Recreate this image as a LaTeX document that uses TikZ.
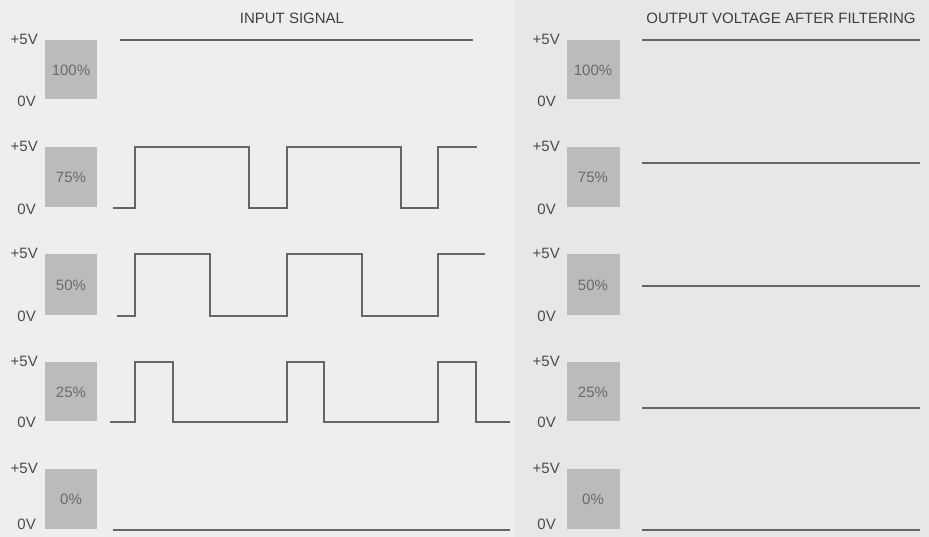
\documentclass[tikz,border=0pt]{standalone}
\usepackage{fontspec}
\setmainfont{Liberation Sans}
\definecolor{bgL}{HTML}{EEEEEE}
\definecolor{bgR}{HTML}{E7E7E7}
\definecolor{boxg}{HTML}{BBBBBB}
\definecolor{ink}{HTML}{4A4A4A}
\definecolor{wave}{HTML}{666666}
\definecolor{pct}{HTML}{6A6A6A}
\begin{document}
\begin{tikzpicture}[x=1pt,y=-1pt,
  lbl/.style={anchor=east,inner sep=0pt,text=ink,font=\fontsize{15}{17}\selectfont},
  head/.style={inner sep=0pt,text=ink!85!black,font=\fontsize{15}{17}\selectfont},
  dutybox/.style={fill=boxg},
  pcttext/.style={inner sep=0pt,text=pct,font=\fontsize{15}{17}\selectfont},
  wv/.style={draw=wave,line width=1.8pt,line join=miter}]
\useasboundingbox (0,0) rectangle (929,537);
\fill[bgL] (0,0) rectangle (515,537);
\fill[bgR] (515,0) rectangle (929,537);
\node[head] (hin) at (292,18) {INPUT SIGNAL};
\node[head] (hout) at (781,18) {OUTPUT VOLTAGE AFTER FILTERING};
% rows: top, bottom, 0V label y, percentage, name
\foreach \t/\b/\z/\p/\n in {40/100/101/100\%/a,147/208/209/75\%/b,254/316/316/50\%/c,362/422/422/25\%/d,469/530/524/0\%/e}{
  \node[lbl] (lp\n) at (38,\t-1) {+5V};
  \node[lbl] (lz\n) at (36,\z) {0V};
  \path[dutybox] (45,\t) rectangle (97,\b-1);
  \node[pcttext] (bl\n) at (71,{(\t+\b)/2}) {\p};
  \node[lbl] (rp\n) at (560,\t-1) {+5V};
  \node[lbl] (rz\n) at (556,\z) {0V};
  \path[dutybox] (567,\t) rectangle (620,\b-1);
  \node[pcttext] (br\n) at (593,{(\t+\b)/2}) {\p};
}
% input waveforms
\draw[wv] (120,40)--(473,40);
\draw[wv] (113,208)--(135,208)--(135,147)--(249,147)--(249,208)--(287,208)--(287,147)--(401,147)--(401,208)--(438,208)--(438,147)--(477,147);
\draw[wv] (117,316)--(135,316)--(135,254)--(210,254)--(210,316)--(287,316)--(287,254)--(362,254)--(362,316)--(438,316)--(438,254)--(485,254);
\draw[wv] (110,422)--(135,422)--(135,362)--(173,362)--(173,422)--(287,422)--(287,362)--(324,362)--(324,422)--(438,422)--(438,362)--(476,362)--(476,422)--(510,422);
\draw[wv] (113,530)--(510,530);
% filtered outputs
\draw[wv] (642,40)--(920,40);
\draw[wv] (642,163)--(920,163);
\draw[wv] (642,286)--(920,286);
\draw[wv] (642,408)--(920,408);
\draw[wv] (642,530)--(920,530);
\end{tikzpicture}
\end{document}
